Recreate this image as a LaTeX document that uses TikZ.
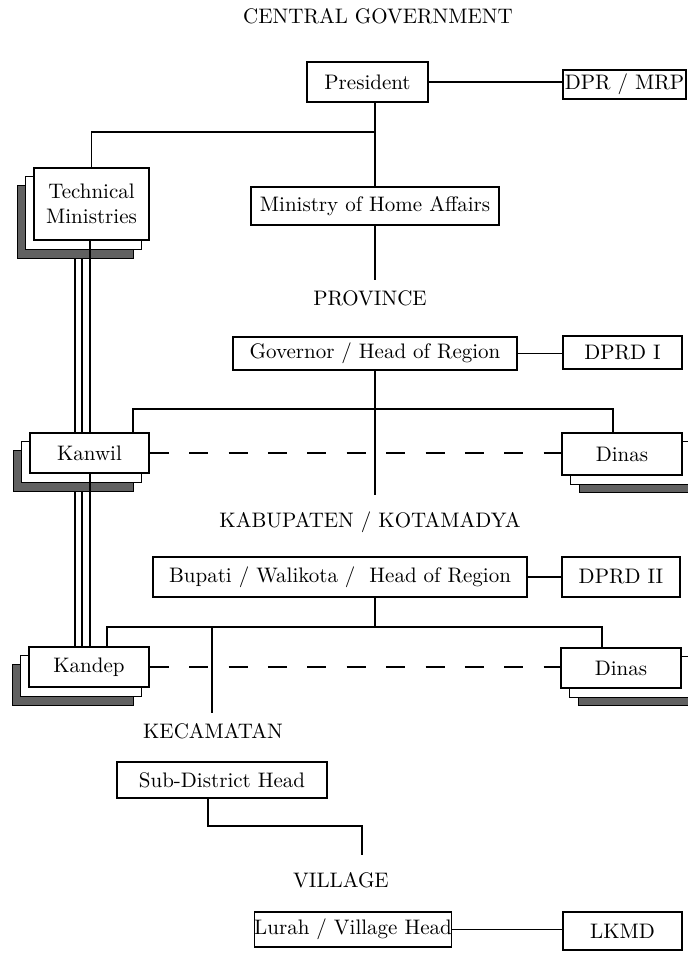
\documentclass[tikz,border=0pt]{standalone}
\usetikzlibrary{calc,backgrounds}
\begin{document}
\begin{tikzpicture}[x=0.5pt,y=-0.5pt,
  txt/.style={font=\fontsize{10.5}{12.5}\selectfont},
  box/.style={txt, draw, line width=0.7pt, fill=white, inner sep=0pt, align=center},
  lbl/.style={txt, inner sep=0pt},
  link/.style={line width=0.7pt},
  dash link/.style={line width=0.7pt, dash pattern=on 9.5pt off 10.2pt},
  shade/.style={fill=black!62, draw=black, line width=0.5pt},
  under/.style={fill=white, draw=black, line width=0.7pt}
]
\useasboundingbox (0,0) rectangle (688,972);

% level headings
\node[lbl] (cg)   at (378,16)  {CENTRAL GOVERNMENT};
\node[lbl] (prov) at (370,298) {PROVINCE};
\node[lbl] (kab)  at (370,522) {KABUPATEN / KOTAMADYA};
\node[lbl] (kec)  at (213,731) {KECAMATAN};
\node[lbl] (vil)  at (341,880) {VILLAGE};

% offices
\node[box, minimum width=60.5pt, minimum height=20pt]   (pres)   at (367.5,82) {President};
\node[box, minimum width=61.5pt, minimum height=14.5pt] (dpr)    at (624.5,84.5) {DPR / MRP};
\node[box, minimum width=57.5pt, minimum height=36pt]   (tech)   at (91.5,204) {Technical\\Ministries};
\node[box, minimum width=124pt, minimum height=19pt]    (moha)   at (375,206) {Ministry of Home Affairs};
\node[box, minimum width=142pt, minimum height=16.5pt]  (gov)    at (375,353.5) {Governor / Head of Region};
\node[box, minimum width=59.5pt, minimum height=16.5pt] (dprdi)  at (622.5,352.5) {DPRD I};
\node[box, minimum width=59.5pt, minimum height=20pt]   (kanwil) at (89.5,453) {Kanwil};
\node[box, minimum width=60pt, minimum height=21pt]     (dinasa) at (622,454) {Dinas};
\node[box, minimum width=187pt, minimum height=20pt]    (bupati) at (340,577) {Bupati / Walikota /\ \ Head of Region};
\node[box, minimum width=59pt, minimum height=20pt]     (dprdii) at (621,577) {DPRD II};
\node[box, minimum width=60pt, minimum height=20pt]     (kandep) at (89,667) {Kandep};
\node[box, minimum width=60pt, minimum height=20pt]     (dinasb) at (621,668) {Dinas};
\node[box, minimum width=105pt, minimum height=18pt]    (subd)   at (222,780) {Sub-District Head};
\node[box, minimum width=95pt, minimum height=17.5pt]   (lurah)  at (353,929.5) {Lurah / Village Head};
\node[box, minimum width=59.5pt, minimum height=19pt]   (lkmd)   at (622.5,931) {LKMD};

% stacked sheets behind the multi-office boxes
\begin{scope}[on background layer]
  \foreach \n in {tech,kanwil,kandep}{
    \filldraw[shade] ($(\n.north west)+(-16,18)$) rectangle ($(\n.south east)+(-16,18)$);
    \filldraw[under] ($(\n.north west)+(-8,9)$) rectangle ($(\n.south east)+(-8,9)$);
  }
  \foreach \n in {dinasa,dinasb}{
    \filldraw[shade] ($(\n.north west)+(18,17)$) rectangle ($(\n.south east)+(18,17)$);
    \filldraw[under] ($(\n.north west)+(9,9)$) rectangle ($(\n.south east)+(9,9)$);
  }
\end{scope}

% helper points
\coordinate (cx)   at (375,0);
\coordinate (jc)   at (375,132);
\coordinate (mEnd) at (375,280);
\coordinate (gEnd) at (375,495);
\coordinate (kw)   at (133,409);
\coordinate (dn)   at (613,409);
\coordinate (jk)   at (375,627);
\coordinate (kd)   at (107,627);
\coordinate (db)   at (602,627);
\coordinate (kc)   at (212,627);
\coordinate (kcEnd) at (212,713);
\coordinate (sdA)  at (208,826);
\coordinate (sdB)  at (362,826);
\coordinate (sdEnd) at (362,855);
\coordinate (ta)   at (75,0);
\coordinate (tb)   at (82,0);
\coordinate (tc)   at (90,0);

% central government
\draw[link] (pres.east) -- (pres.east -| dpr.west);
\draw[link] (cx |- pres.south) -- (moha.north);
\draw[link] (tech.north) |- (jc);
\draw[link] (moha.south) -- (mEnd);

% province
\draw[link] (gov.east) -- (gov.east -| dprdi.west);
\draw[link] (gov.south) -- (gEnd);
\draw[link] (kw |- kanwil.north) -- (kw) -- (dn) -- (dn |- dinasa.north);
\draw[dash link] (kanwil.east) -- (kanwil.east -| dinasa.west);

% kabupaten / kotamadya
\draw[link] (dprdii.west -| bupati.east) -- (dprdii.west);
\draw[link] (cx |- bupati.south) -- (jk);
\draw[link] (kd |- kandep.north) -- (kd) -- (db) -- (db |- dinasb.north);
\draw[link] (kc) -- (kcEnd);
\draw[dash link] (kandep.east) -- (kandep.east -| dinasb.west);

% technical line of command (triple line)
\foreach \c in {ta,tb}{
  \draw[link] ($(\c |- tech.south)+(0,18)$) -- (\c |- kanwil.north);
  \draw[link] ($(\c |- kanwil.south)+(0,18)$) -- (\c |- kandep.north);
}
\draw[link] (tc |- tech.south) -- (tc |- kanwil.north);
\draw[link] (tc |- kanwil.south) -- (tc |- kandep.north);

% kecamatan and village
\draw[link] (sdA |- subd.south) -- (sdA) -- (sdB) -- (sdEnd);
\draw[link] (lurah.east) -- (lurah.east -| lkmd.west);
\end{tikzpicture}
\end{document}
